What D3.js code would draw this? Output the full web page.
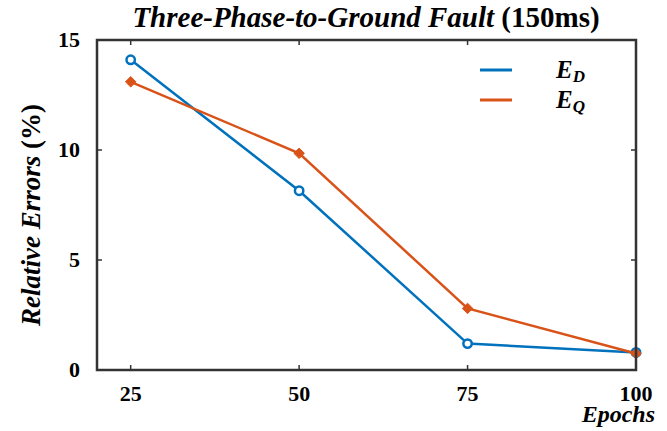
<!DOCTYPE html>
<html><head><meta charset="utf-8">
<script src="https://cdn.jsdelivr.net/npm/d3@7"></script>
</head><body style="margin:0">
<svg id="c" width="667" height="431"></svg>
<script>
// Chart data
const epochs = [25, 50, 75, 100];
const errD = [14.1, 8.15, 1.2, 0.8];
const errQ = [13.1, 9.85, 2.8, 0.75];
const xTicks = [25, 50, 75, 100];
const yTicks = [0, 5, 10, 15];

const svg = d3.select("#c");
const margin = { top: 40, right: 31, bottom: 61, left: 97 };
const W = 667, H = 431;
const serif = "Liberation Serif";

const x = d3.scaleLinear().domain([20, 100]).range([margin.left, W - margin.right]);
const y = d3.scaleLinear().domain([0, 15]).range([H - margin.bottom, margin.top]);

const blue = "#0072BD", orange = "#D95319";
const frame = "#333";

// inner ticks on all four sides
const tickLen = 5;
const ticks = svg.append("g").attr("stroke", frame).attr("stroke-width", 1.5);
xTicks.forEach(t => {
  ticks.append("line").attr("x1", x(t)).attr("x2", x(t)).attr("y1", y(0)).attr("y2", y(0) - tickLen);
  ticks.append("line").attr("x1", x(t)).attr("x2", x(t)).attr("y1", y(15)).attr("y2", y(15) + tickLen);
});
yTicks.forEach(t => {
  ticks.append("line").attr("x1", x(20)).attr("x2", x(20) + tickLen).attr("y1", y(t)).attr("y2", y(t));
  ticks.append("line").attr("x1", x(100)).attr("x2", x(100) - tickLen).attr("y1", y(t)).attr("y2", y(t));
});

// tick labels
xTicks.forEach(t => {
  svg.append("text").attr("x", x(t)).attr("y", y(0) + 31)
    .attr("font-size", 22).attr("font-weight", "bold").attr("font-family", serif)
    .attr("text-anchor", "middle").text(t);
});
yTicks.forEach(t => {
  svg.append("text").attr("x", margin.left - 17).attr("y", y(t) + 7)
    .attr("font-size", 22).attr("font-weight", "bold").attr("font-family", serif)
    .attr("text-anchor", "end").text(t);
});

// lines + markers
const line = d3.line().x(d => x(d[0])).y(d => y(d[1]));
const series = [
  { name: "D", vals: errD, color: blue, marker: "circle" },
  { name: "Q", vals: errQ, color: orange, marker: "diamond" }
];

series.forEach(s => {
  const pts = epochs.map((e, i) => [e, s.vals[i]]);
  svg.append("path").datum(pts)
    .attr("fill", "none").attr("stroke", s.color).attr("stroke-width", 2.5)
    .attr("d", line);
  if (s.marker === "circle") {
    svg.append("g").selectAll("circle").data(pts).join("circle")
      .attr("cx", d => x(d[0])).attr("cy", d => y(d[1])).attr("r", 4.2)
      .attr("fill", "#fff").attr("stroke", s.color).attr("stroke-width", 2.5);
  } else {
    const sym = d3.symbol().type(d3.symbolDiamond2).size(70);
    svg.append("g").selectAll("path").data(pts).join("path")
      .attr("transform", d => `translate(${x(d[0])},${y(d[1])})`)
      .attr("d", sym)
      .attr("fill", s.color).attr("stroke", s.color).attr("stroke-width", 1);
  }
});

// frame
svg.append("rect")
  .attr("x", x(20)).attr("y", y(15))
  .attr("width", x(100) - x(20)).attr("height", y(0) - y(15))
  .attr("fill", "none").attr("stroke", frame).attr("stroke-width", 2.5);

// legend
series.forEach((s, i) => {
  const ly = 70 + i * 30;
  svg.append("line").attr("x1", 480).attr("x2", 512).attr("y1", ly).attr("y2", ly)
    .attr("stroke", s.color).attr("stroke-width", 3);
  const t = svg.append("text").attr("x", 556).attr("y", ly + 8)
    .attr("font-size", 25).attr("font-weight", "bold").attr("font-style", "italic")
    .attr("font-family", serif);
  t.append("tspan").text("E");
  t.append("tspan").attr("font-size", 17).attr("dy", 4).text(s.name);
});

// title
const title = svg.append("text").attr("x", 366).attr("y", 27)
  .attr("font-size", 29).attr("font-weight", "bold").attr("font-family", serif)
  .attr("text-anchor", "middle");
title.append("tspan").attr("font-style", "italic").text("Three-Phase-to-Ground Fault ");
title.append("tspan").text("(150ms)");

// axis labels
svg.append("text").attr("x", 655).attr("y", 422)
  .attr("font-size", 24).attr("font-weight", "bold").attr("font-style", "italic")
  .attr("font-family", serif).attr("text-anchor", "end").text("Epochs");

const yl = svg.append("text")
  .attr("transform", `translate(40,${(y(0) + y(15)) / 2 + 10}) rotate(-90)`)
  .attr("font-size", 27).attr("font-weight", "bold").attr("font-family", serif)
  .attr("text-anchor", "middle");
yl.append("tspan").attr("font-style", "italic").text("Relative Errors ");
yl.append("tspan").text("(%)");
</script>
</body></html>
